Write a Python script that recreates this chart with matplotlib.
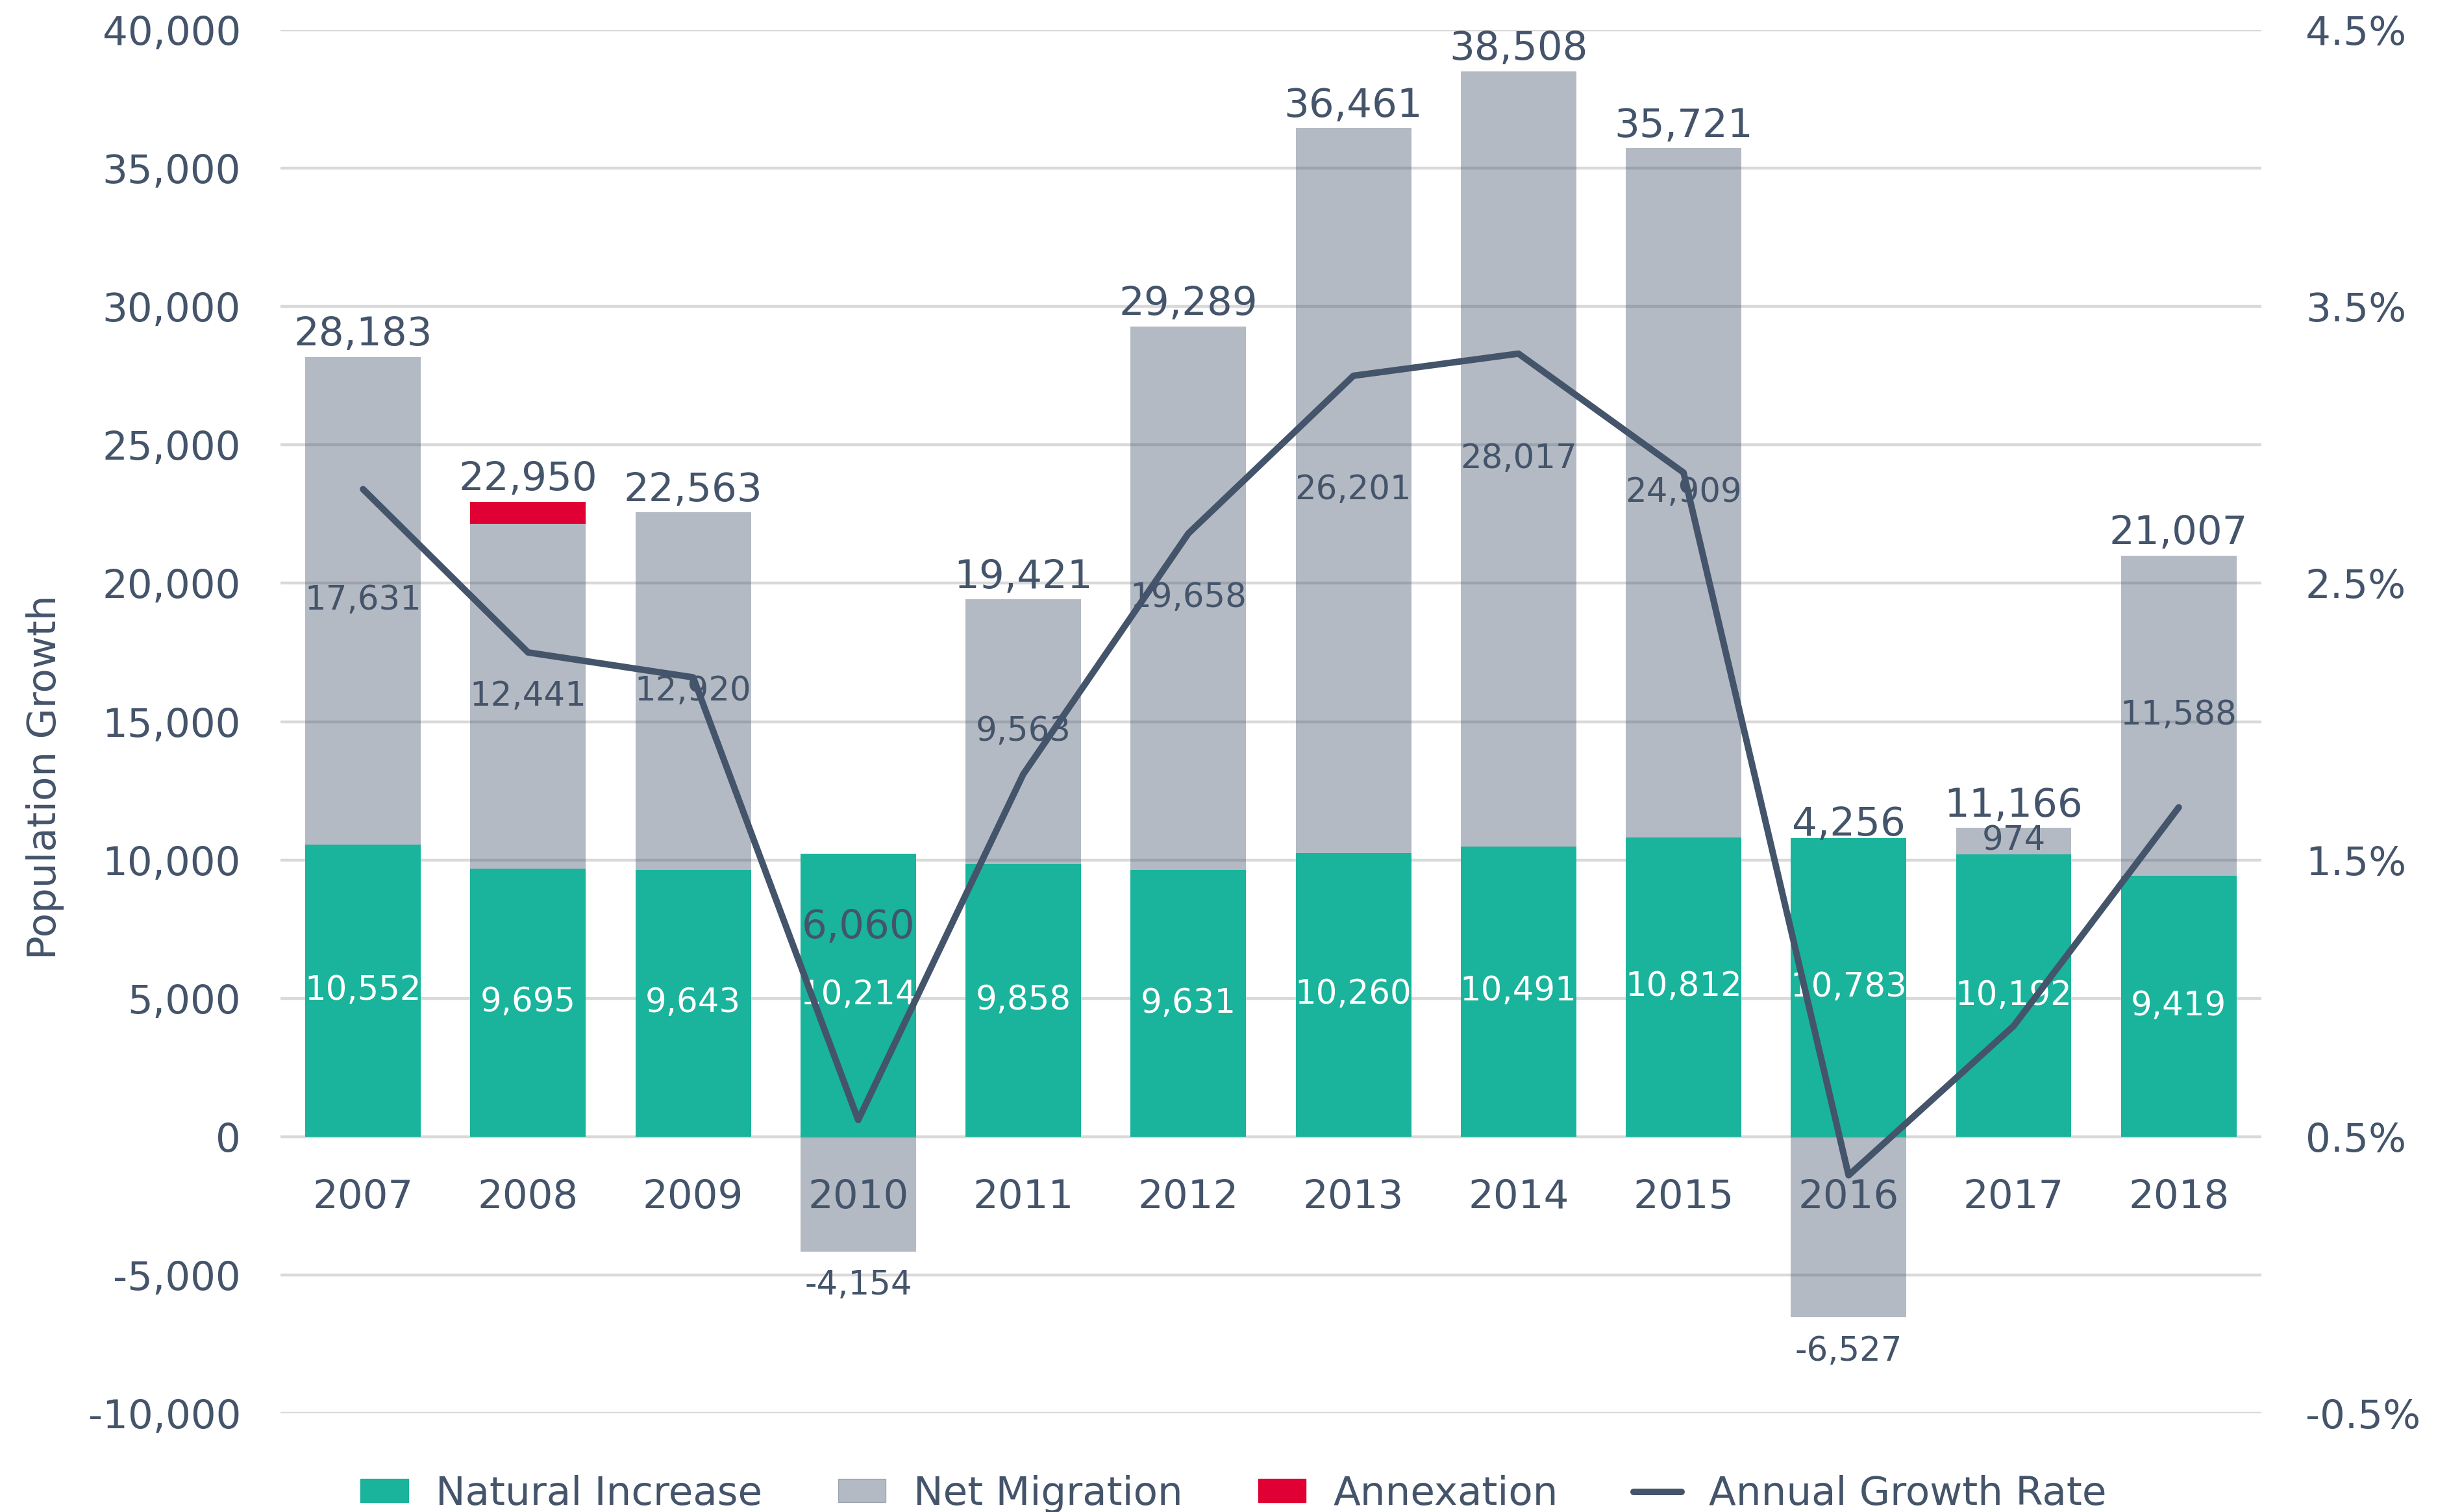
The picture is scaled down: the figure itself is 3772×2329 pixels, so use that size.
import matplotlib
matplotlib.use("Agg")
import matplotlib.pyplot as plt
from matplotlib.patches import Patch
from matplotlib.lines import Line2D

plt.rcParams['font.family'] = ['DejaVu Sans']

years = ["2007", "2008", "2009", "2010", "2011", "2012", "2013", "2014", "2015", "2016", "2017", "2018"]
natural = [10552, 9695, 9643, 10214, 9858, 9631, 10260, 10491, 10812, 10783, 10192, 9419]
migration = [17631, 12441, 12920, -4154, 9563, 19658, 26201, 28017, 24909, -6527, 974, 11588]
annexation = [0, 814, 0, 0, 0, 0, 0, 0, 0, 0, 0, 0]
totals = [28183, 22950, 22563, 6060, 19421, 29289, 36461, 38508, 35721, 4256, 11166, 21007]
growth_rate = [2.84, 2.25, 2.16, 0.56, 1.81, 2.68, 3.25, 3.33, 2.90, 0.36, 0.90, 1.69]

TEAL = "#1ab39b"
SLATE = "#44546a"
RED = "#e00034"
FS = 44

fig = plt.figure(figsize=(37.73, 23.29), dpi=100)
ax = fig.add_axes([0.1145, 0.0653, 0.8086, 0.9149])
x = range(len(years))
w = 0.7

# stacked bars, negative migration hangs below zero
mig_bottom = [n if m >= 0 else 0 for n, m in zip(natural, migration)]
ann_bottom = [n + max(m, 0) for n, m in zip(natural, migration)]
ax.bar(x, natural, w, color=TEAL, zorder=2)
ax.bar(x, migration, w, bottom=mig_bottom, color=SLATE, alpha=0.4, linewidth=0, zorder=2)
ax.bar(x, annexation, w, bottom=ann_bottom, color=RED, zorder=2)

ax.set_xlim(-0.5, len(years) - 0.5)
ax.set_ylim(-10000, 40000)
ax.set_yticks(range(-10000, 40001, 5000))
ax.set_yticklabels([f"{v:,}" for v in range(-10000, 40001, 5000)])
ax.yaxis.grid(True, color="#d9d9d9", linewidth=3.2, zorder=0)
ax.set_axisbelow(True)
for s in ax.spines.values():
    s.set_visible(False)
ax.spines['bottom'].set_position(('data', 0))
ax.set_xticks(list(x))
ax.set_xticklabels(years)
ax.tick_params(axis='both', length=0, labelsize=FS, labelcolor=SLATE)
ax.tick_params(axis='y', pad=44)
ax.tick_params(axis='x', pad=46)
ax.set_ylabel("Population Growth", fontsize=FS, color=SLATE)
ax.yaxis.set_label_coords(-0.109, 0.46)

# data labels
for i in x:
    ax.text(i, natural[i] / 2, f"{natural[i]:,}", ha='center', va='center',
            color='white', fontsize=37, zorder=4)
    m = migration[i]
    if m >= 0:
        ax.text(i, natural[i] + m / 2, f"{m:,}", ha='center', va='center',
                color=SLATE, fontsize=37, zorder=4)
    else:
        ax.text(i, m - 650, f"{m:,}", ha='center', va='top',
                color=SLATE, fontsize=37, zorder=4)
    base = totals[i]
    if years[i] == "2016":
        base = natural[i] - 300
    elif years[i] == "2010":
        base = totals[i] + 700
    ax.text(i, base + 100, f"{totals[i]:,}", ha='center', va='bottom',
            color=SLATE, fontsize=FS, zorder=4)

# growth rate on right axis
ax2 = ax.twinx()
ax2.plot(list(x), growth_rate, color=SLATE, linewidth=7.2, solid_capstyle='round',
         solid_joinstyle='round', zorder=5)
ax2.set_ylim(-0.5, 4.5)
ax2.set_yticks([-0.5, 0.5, 1.5, 2.5, 3.5, 4.5])
ax2.set_yticklabels([f"{v:.1f}%" for v in [-0.5, 0.5, 1.5, 2.5, 3.5, 4.5]])
ax2.tick_params(axis='y', length=0, labelsize=FS, labelcolor=SLATE, pad=49)
for s in ax2.spines.values():
    s.set_visible(False)

handles = [Patch(color=TEAL), Patch(color=SLATE, alpha=0.4), Patch(color=RED),
           Line2D([0], [0], color=SLATE, linewidth=7.2, solid_capstyle='round')]
labels = ["Natural Increase", "Net Migration", "Annexation", "Annual Growth Rate"]
fig.legend(handles, labels, loc='center', bbox_to_anchor=(0.5036, 0.012), ncol=4,
           frameon=False, fontsize=FS, labelcolor=SLATE, handlelength=1.2,
           handleheight=0.55, handletextpad=0.7, columnspacing=1.9)

fig.savefig("out.png", dpi=100)
